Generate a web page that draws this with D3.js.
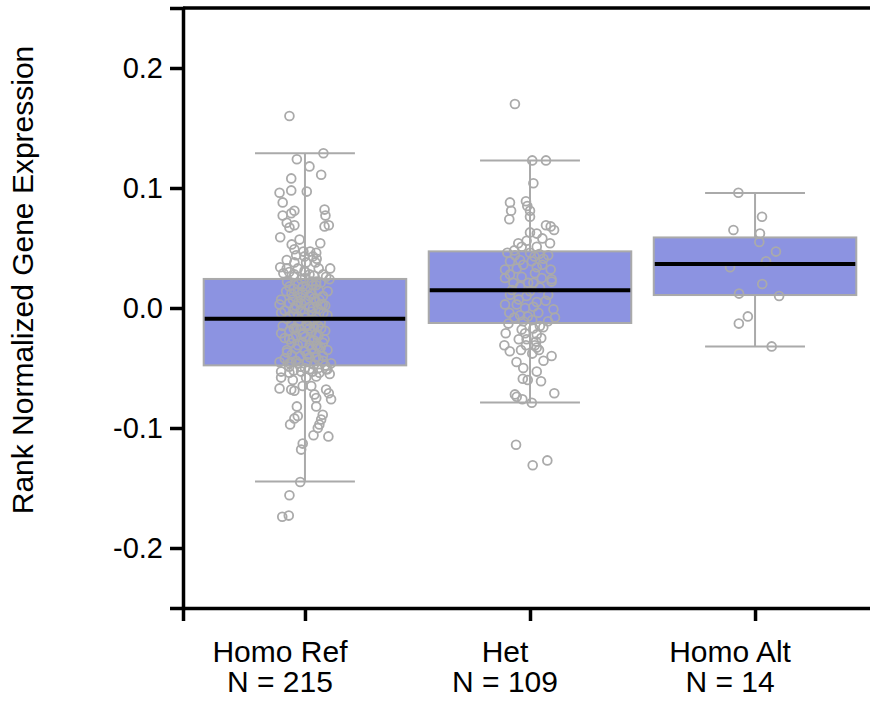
<!DOCTYPE html>
<html>
<head>
<meta charset="utf-8">
<script src="https://cdn.jsdelivr.net/npm/d3@7"></script>
<style>
  body { margin: 0; background: #fff; }
  text { font-family: Helvetica, Arial, "Liberation Sans", sans-serif; }
</style>
</head>
<body>
<div class="chart"></div>
<script>
// genotype groups
const groups = ["Homo Ref", "Het", "Homo Alt"];
const counts = [215, 109, 14];
const yTicks = [-0.2, -0.1, 0.0, 0.1, 0.2];

// box stats
const whiskerLow  = [-0.1445, -0.0787, -0.0320];
const q1          = [-0.0478, -0.0125,  0.0108];
const medians     = [-0.0089,  0.0147,  0.0367];
const q3          = [ 0.0242,  0.0472,  0.0588];
const whiskerHigh = [ 0.1290,  0.1230,  0.0958];

// points: [jitter (fraction of group step), expression]
const homoRefPoints = [
  [-0.069,0.160],[0.082,0.129],[-0.036,0.124],[0.020,0.118],[0.072,0.111],[-0.061,0.108],[-0.061,0.098],[0.008,0.097],[-0.113,0.096],[-0.099,0.088],
  [-0.047,0.081],[0.087,0.082],[-0.061,0.079],[0.091,0.077],[-0.099,0.077],[-0.081,0.071],[-0.047,0.069],[-0.069,0.067],[0.087,0.068],[0.106,0.069],
  [-0.110,0.059],[-0.024,0.057],[0.068,0.054],[-0.059,0.053],[-0.047,0.049],[-0.007,0.047],[0.023,0.047],[0.050,0.046],[-0.039,0.044],[-0.002,0.043],
  [0.035,0.043],[0.052,0.041],[-0.081,0.040],[-0.047,0.038],[0.005,0.038],[0.047,0.038],[-0.110,0.034],[-0.081,0.033],[-0.032,0.033],[-0.002,0.031],
  [0.061,0.033],[0.112,0.033],[-0.096,0.029],[-0.047,0.028],[0.020,0.028],[0.094,0.026],[-0.017,0.024],[0.050,0.022],[0.109,0.024],[-0.069,0.018],
  [-0.010,0.018],[0.035,0.019],[0.101,0.014],[-0.084,0.014],[-0.032,0.013],[0.020,0.010],[-0.106,0.007],[-0.054,0.007],[0.064,0.007],[-0.113,0.003],
  [-0.017,0.004],[0.079,0.003],[-0.047,0.000],[0.035,0.000],[-0.106,-0.004],[-0.002,-0.004],[0.082,-0.004],[-0.069,-0.007],[0.042,-0.010],[-0.099,-0.015],
  [-0.039,-0.017],[0.012,-0.015],[0.072,-0.017],[-0.106,-0.021],[-0.010,-0.021],[0.050,-0.022],[-0.054,-0.025],[0.020,-0.026],[0.087,-0.026],[-0.032,-0.031],
  [0.057,-0.032],[-0.113,-0.045],[-0.069,-0.046],[0.116,-0.046],[-0.106,-0.053],[-0.069,-0.054],[-0.017,-0.053],[0.035,-0.053],[0.064,-0.054],[0.094,-0.051],
  [-0.106,-0.058],[-0.054,-0.060],[0.005,-0.058],[0.050,-0.057],[-0.113,-0.067],[-0.061,-0.068],[-0.047,-0.069],[-0.010,-0.065],[0.028,-0.065],[0.042,-0.072],
  [0.094,-0.068],[0.106,-0.071],[0.116,-0.076],[0.050,-0.075],[-0.036,-0.082],[0.050,-0.082],[-0.047,-0.092],[-0.032,-0.090],[-0.066,-0.097],[0.079,-0.089],
  [0.072,-0.093],[0.064,-0.097],[0.057,-0.100],[0.038,-0.106],[0.104,-0.107],[-0.010,-0.113],[-0.017,-0.118],[-0.021,-0.145],[-0.069,-0.156],[-0.101,-0.174],
  [-0.072,-0.173],
  [-0.05,0.026],[0.00,0.025],[0.04,0.027],[0.07,0.021],[-0.08,0.022],[-0.03,0.020],[0.01,0.016],[0.06,0.015],[-0.06,0.012],[0.03,0.012],
  [0.08,0.010],[-0.02,0.009],[0.05,0.005],[-0.07,0.004],[0.00,0.006],[0.09,0.002],[-0.04,0.002],[0.02,0.001],[0.06,-0.001],[-0.09,-0.002],
  [-0.02,-0.002],[0.03,-0.003],[0.10,-0.006],[-0.05,-0.005],[0.00,-0.008],[0.05,-0.007],[-0.08,-0.009],[-0.03,-0.011],[0.02,-0.011],[0.07,-0.012],
  [-0.06,-0.013],[0.01,-0.014],[0.04,-0.016],[0.09,-0.019],[-0.02,-0.018],[-0.07,-0.019],[0.03,-0.020],[0.06,-0.023],[-0.04,-0.023],[0.00,-0.024],
  [-0.09,-0.025],[0.04,-0.027],[0.08,-0.029],[-0.06,-0.029],[-0.01,-0.029],[0.02,-0.031],[0.07,-0.033],[-0.04,-0.034],[0.10,-0.035],[-0.08,-0.035],
  [0.00,-0.036],[0.04,-0.037],[-0.06,-0.039],[0.08,-0.040],[-0.02,-0.040],[0.02,-0.041],[0.06,-0.043],[-0.09,-0.042],[-0.04,-0.044],[0.01,-0.045],
  [0.04,-0.047],[0.09,-0.048],[-0.07,-0.049],[-0.02,-0.049],[0.06,-0.050],[0.02,-0.051],[-0.05,-0.052],[0.11,-0.055],[-0.08,-0.037],[0.03,-0.034],
  [-0.03,-0.007],[0.07,0.003],[-0.05,0.016],[0.05,0.019],[0.00,0.030],[0.03,0.022],[-0.07,0.030],[0.08,0.028],[-0.01,0.013],[0.04,0.008],
  [-0.03,0.005],[0.06,-0.015],[-0.05,-0.017],[0.02,-0.017],[-0.01,-0.022],[0.05,-0.031],[-0.07,-0.026],[0.01,-0.039],[-0.03,-0.046],[0.08,-0.044],
  [0.00,-0.050],[-0.06,-0.045],[0.05,-0.041],[0.10,-0.051]
];

const hetPoints = [
  [-0.067,0.170],[0.010,0.123],[0.071,0.123],[0.015,0.104],[-0.089,0.088],[-0.018,0.089],[-0.084,0.081],[-0.012,0.085],[-0.092,0.074],[0.000,0.081],
  [0.000,0.076],[0.071,0.069],[0.092,0.068],[0.107,0.065],[0.000,0.063],[0.030,0.062],[-0.052,0.054],[-0.015,0.056],[0.055,0.058],[0.089,0.054],
  [0.030,0.051],[-0.037,0.051],[-0.101,0.046],[-0.067,0.044],[0.000,0.046],[0.041,0.045],[0.081,0.044],[-0.089,0.039],[-0.044,0.040],[0.008,0.039],
  [0.055,0.036],[-0.111,0.032],[-0.059,0.033],[0.092,0.032],[-0.089,0.028],[-0.037,0.026],[0.022,0.029],[-0.111,0.025],[0.096,0.024],[-0.074,0.021],
  [-0.008,0.021],[0.052,0.025],[0.096,0.022],[0.015,0.021],[-0.044,0.018],[0.044,0.017],[-0.089,0.011],[-0.015,0.010],[0.081,0.011],[-0.111,0.003],
  [-0.059,0.003],[0.015,0.001],[-0.022,0.000],[0.104,-0.001],[-0.092,-0.004],[0.037,-0.004],[-0.044,-0.006],[0.111,-0.008],[-0.096,-0.013],[-0.030,-0.011],
  [0.044,-0.015],[-0.037,-0.018],[0.015,-0.017],[0.059,-0.016],[-0.108,-0.021],[-0.022,-0.021],[0.030,-0.022],[-0.015,-0.026],[0.027,-0.028],[-0.114,-0.031],
  [-0.018,-0.031],[0.022,-0.031],[0.030,-0.033],[-0.040,-0.035],[0.040,-0.035],[0.096,-0.040],[-0.032,-0.059],[-0.010,-0.060],[0.049,-0.061],[-0.067,-0.072],
  [0.108,-0.071],[-0.059,-0.074],[-0.034,-0.076],[0.008,-0.079],[-0.062,-0.114],[0.077,-0.127],[0.012,-0.131],
  [-0.07,0.048],[0.02,0.043],[0.06,0.041],[-0.03,0.036],[0.03,0.034],[-0.08,0.015],[0.00,0.014],[0.07,0.006],[-0.05,0.007],[0.03,0.005],
  [-0.01,-0.007],[0.08,-0.011],[-0.07,-0.008],[0.01,-0.010],[-0.05,-0.026],[0.05,-0.025],[-0.09,-0.036],[0.01,-0.038],[-0.06,-0.045],[0.06,-0.044],
  [-0.03,-0.050],[0.03,-0.053]
];

const homoAltPoints = [
  [-0.074,0.096],[0.031,0.076],[-0.096,0.065],[0.022,0.062],[0.019,0.055],[0.093,0.047],[0.049,0.039],
  [-0.111,0.034],[0.032,0.020],[-0.071,0.012],[0.107,0.010],[-0.032,-0.007],[-0.072,-0.013],[0.074,-0.032]
];

const pointSets = [homoRefPoints, hetPoints, homoAltPoints];

// CHART INIT-------------------------
const W = 870, H = 702;
const plot = {left: 183, right: 877, top: 8, bottom: 608};

const svg = d3.select('.chart')
    .append('svg')
    .attr('width', W)
    .attr('height', H);

const x = d3.scalePoint()
    .domain(groups)
    .range([plot.left, plot.right])
    .padding(0.542);

const y = d3.scaleLinear()
    .domain([-0.25, 0.25])
    .range([plot.bottom, plot.top]);

const step = x.step();
const boxW = step * 0.9;
const capW = step * 0.444;
const labelShift = -25;

const boxFill = '#8c93e1';
const gray = '#aaaaaa';

// top frame line
svg.append('line')
    .attr('x1', plot.left).attr('x2', plot.right)
    .attr('y1', y(0.25)).attr('y2', y(0.25))
    .attr('stroke', '#000').attr('stroke-width', 3.5);

// whiskers + boxes
const g = svg.append('g');
groups.forEach((grp, i) => {
    const cx = x(grp);
    g.append('line')
        .attr('x1', cx).attr('x2', cx)
        .attr('y1', y(whiskerLow[i])).attr('y2', y(whiskerHigh[i]))
        .attr('stroke', gray).attr('stroke-width', 2);
    [whiskerLow[i], whiskerHigh[i]].forEach(v => {
        g.append('line')
            .attr('x1', cx - capW / 2).attr('x2', cx + capW / 2)
            .attr('y1', y(v)).attr('y2', y(v))
            .attr('stroke', gray).attr('stroke-width', 2);
    });
    g.append('rect')
        .attr('x', cx - boxW / 2)
        .attr('width', boxW)
        .attr('y', y(q3[i]))
        .attr('height', y(q1[i]) - y(q3[i]))
        .attr('fill', boxFill)
        .attr('stroke', gray)
        .attr('stroke-width', 2);
});

// jittered points
groups.forEach((grp, i) => {
    g.append('g')
        .selectAll('circle')
        .data(pointSets[i])
        .enter()
        .append('circle')
        .attr('cx', d => x(grp) + d[0] * step)
        .attr('cy', d => y(d[1]))
        .attr('r', 4.4)
        .attr('fill', 'none')
        .attr('stroke', gray)
        .attr('stroke-width', 1.8);
});

// medians
groups.forEach((grp, i) => {
    const cx = x(grp);
    g.append('line')
        .attr('x1', cx - boxW / 2 + 1).attr('x2', cx + boxW / 2 - 1)
        .attr('y1', y(medians[i])).attr('y2', y(medians[i]))
        .attr('stroke', '#000').attr('stroke-width', 4);
});

// axes
const yAxis = d3.axisLeft(y)
    .tickValues(yTicks)
    .tickFormat(d => d.toFixed(1))
    .tickSize(13)
    .tickPadding(7);

const xAxis = d3.axisBottom(x)
    .tickSize(13)
    .tickSizeOuter(13)
    .tickFormat('');

const ya = svg.append('g')
    .attr('class', 'axis y-axis')
    .attr('transform', `translate(${plot.left},0)`)
    .call(yAxis);

const xa = svg.append('g')
    .attr('class', 'axis x-axis')
    .attr('transform', `translate(0,${plot.bottom})`)
    .call(xAxis);

[ya, xa].forEach(a => {
    a.select('.domain').attr('stroke-width', 3.5);
    a.selectAll('.tick line').attr('stroke-width', 3.5);
});

ya.selectAll('.tick text')
    .attr('font-size', 29)
    .attr('fill', '#000')
    .style('font-family', 'Helvetica, Arial, "Liberation Sans", sans-serif');

// x labels, two lines
groups.forEach((grp, i) => {
    const t = svg.append('text')
        .attr('text-anchor', 'middle')
        .attr('font-size', 30)
        .attr('fill', '#000')
        .attr('x', x(grp) + labelShift)
        .attr('y', 662);
    t.append('tspan').attr('x', x(grp) + labelShift).text(grp);
    t.append('tspan').attr('x', x(grp) + labelShift).attr('dy', 30).text(`N = ${counts[i]}`);
});

// y title
svg.append('text')
    .attr('transform', `translate(33,280) rotate(-90)`)
    .attr('text-anchor', 'middle')
    .attr('font-size', 30)
    .attr('fill', '#000')
    .text('Rank Normalized Gene Expression');
</script>
</body>
</html>
